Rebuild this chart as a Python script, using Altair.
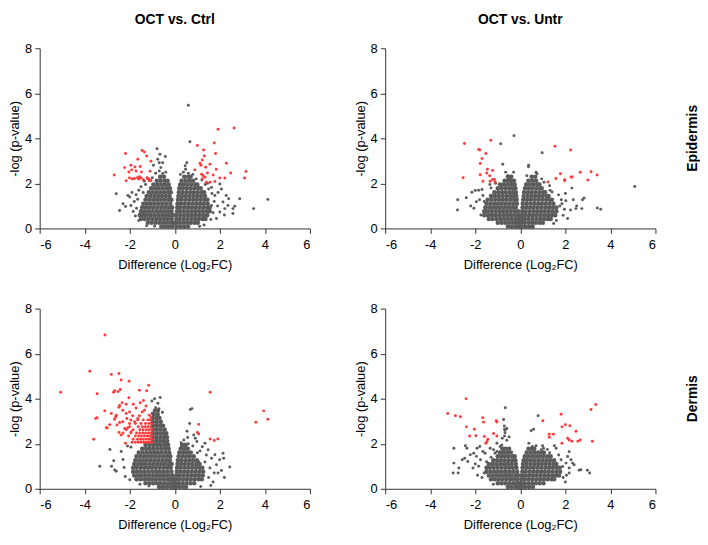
import altair as alt
import pandas as pd

FONT = "Liberation Sans"
GRAY = "#5b5b5b"
RED = "#ff3b3b"

COMPARISONS = ["OCT vs. Ctrl", "OCT vs. Untr"]
TISSUES = ["Epidermis", "Dermis"]
X_TICKS = [-6, -4, -2, 0, 2, 4, 6]
Y_TICKS = [0, 2, 4, 6, 8]

# ---------------- Epidermis / OCT vs. Ctrl ----------------
EPI_CTRL_CORE = {
    0.08: [-0.6, -0.43, -0.26, -0.1, 0.08, 0.25, 0.42, 0.59],
    0.25: [-1.2, -1.03, -0.86, -0.69, -0.52, -0.35, -0.18, -0.05, 0.05, 0.2, 0.37, 0.54, 0.71, 0.88, 1.02],
    0.42: [-1.5, -1.33, -1.16, -0.99, -0.82, -0.65, -0.48, -0.31, -0.14, 0.07, 0.22, 0.39, 0.56, 0.73, 0.9, 1.07, 1.24, 1.36],
    0.59: [-1.55, -1.4, -1.24, -1.07, -0.9, -0.73, -0.56, -0.39, -0.22, -0.08, 0.08, 0.25, 0.42, 0.59, 0.76, 0.93, 1.1, 1.27, 1.44],
    0.76: [-1.5, -1.33, -1.16, -0.99, -0.82, -0.65, -0.48, -0.31, -0.15, 0.1, 0.22, 0.39, 0.56, 0.73, 0.9, 1.07, 1.24, 1.41, 1.55],
    0.93: [-1.45, -1.28, -1.11, -0.94, -0.77, -0.6, -0.43, -0.26, -0.12, 0.11, 0.25, 0.42, 0.59, 0.76, 0.93, 1.1, 1.27, 1.44, 1.55],
    1.10: [-1.4, -1.23, -1.06, -0.89, -0.72, -0.55, -0.38, -0.2, 0.12, 0.27, 0.44, 0.61, 0.78, 0.95, 1.12, 1.29, 1.46],
    1.27: [-1.3, -1.13, -0.96, -0.79, -0.62, -0.45, -0.28, -0.15, 0.14, 0.3, 0.47, 0.64, 0.81, 0.98, 1.15, 1.32, 1.45],
    1.44: [-1.25, -1.08, -0.91, -0.74, -0.57, -0.4, -0.23, 0.16, 0.32, 0.49, 0.66, 0.83, 1.0, 1.17, 1.34],
    1.61: [-1.15, -0.98, -0.81, -0.64, -0.47, -0.3, -0.18, 0.18, 0.34, 0.51, 0.68, 0.85, 1.02, 1.19, 1.3],
    1.78: [-1.05, -0.88, -0.71, -0.54, -0.37, -0.22, 0.2, 0.36, 0.53, 0.7, 0.87, 1.04, 1.15],
    1.95: [-0.95, -0.78, -0.61, -0.44, -0.27, 0.24, 0.4, 0.57, 0.74, 0.91, 1.0],
    2.12: [-0.8, -0.63, -0.46, -0.32, 0.3, 0.47, 0.64, 0.81],
    2.29: [-0.65, -0.48, 0.42, 0.59, 0.7],
}
EPI_CTRL_GRAY = [
    (-0.79, 3.54), (-0.66, 3.29), (-0.42, 3.19), (-0.76, 3.07), (-0.69, 2.92), (-0.54, 2.92),
    (-0.95, 2.81), (-0.62, 2.7), (-0.69, 2.55), (-0.54, 2.44), (-0.4, 2.5), (-0.85, 2.45),
    (-2.6, 1.54), (-2.08, 1.46), (-2.0, 1.4), (-2.19, 0.97), (-1.95, 1.02), (-2.45, 0.8),
    (-1.8, 1.2), (-1.72, 1.5), (-1.6, 1.7), (-1.85, 0.75), (-1.7, 0.9), (-1.65, 1.3),
    (-1.5, 1.85), (-1.3, 1.95), (-1.35, 2.1), (-1.15, 2.2), (-1.0, 2.25), (-2.3, 1.1),
    (-1.9, 1.6), (-1.75, 0.55), (-1.6, 0.35), (-1.25, 0.12), (-0.9, 0.1), (-1.4, 1.6),
    (0.6, 5.47), (0.67, 3.85), (0.53, 2.92), (0.46, 2.78), (0.48, 2.63), (0.38, 2.5),
    (0.6, 2.45), (0.25, 2.4), (2.88, 1.32), (4.13, 1.29), (3.5, 0.88), (2.58, 0.66),
    (2.66, 0.98), (2.28, 1.46), (2.39, 1.32), (2.22, 0.88), (2.07, 1.75), (1.92, 1.6),
    (2.0, 1.97), (1.63, 1.82), (1.78, 1.46), (2.14, 1.17), (1.63, 1.02), (2.0, 0.73),
    (1.85, 0.44), (2.36, 1.02), (2.58, 0.88), (1.7, 0.7), (1.75, 1.2), (1.5, 1.75),
    (1.45, 2.0), (1.2, 2.15), (1.35, 1.95), (1.9, 1.0), (1.6, 0.4), (1.3, 0.15),
    (1.1, 0.1), (2.2, 0.6), (1.65, 1.55), (0.95, 2.2), (0.8, 2.4),
]
EPI_CTRL_RED = [
    (-2.19, 3.33), (-1.45, 3.46), (-1.35, 3.39), (-1.64, 3.07), (-1.25, 3.22), (-1.06, 2.98),
    (-1.95, 2.81), (-2.23, 2.7), (-1.77, 2.73), (-1.54, 2.75), (-1.92, 2.6), (-2.04, 2.51),
    (-1.72, 2.55), (-1.48, 2.51), (-1.1, 2.54), (-2.69, 2.37), (-2.01, 2.24), (-1.89, 2.19),
    (-1.79, 2.22), (-1.66, 2.25), (-1.57, 2.29), (-1.5, 2.24), (-1.6, 2.19), (-1.4, 2.16),
    (-1.19, 2.19), (-1.13, 2.12), (-2.16, 2.12), (-1.23, 2.25), (-1.06, 2.13),
    (1.92, 4.4), (2.63, 4.46), (1.0, 3.68), (1.75, 3.79), (1.28, 3.48), (1.81, 3.33),
    (1.31, 3.22), (1.22, 3.04), (1.12, 2.89), (1.16, 2.81), (1.56, 2.85), (2.29, 2.89),
    (0.89, 2.6), (1.37, 2.72), (1.84, 2.63), (1.19, 2.41), (1.26, 2.34), (1.45, 2.46),
    (1.7, 2.37), (2.0, 2.24), (2.22, 2.24), (2.48, 2.46), (3.16, 2.53), (3.1, 2.24),
    (1.4, 2.05), (1.56, 2.05), (1.78, 2.08), (1.22, 2.19), (1.34, 2.27),
]

# ---------------- Epidermis / OCT vs. Untr ----------------
EPI_UNTR_CORE = {
    0.08: [-0.55, -0.38, -0.21, -0.06, 0.06, 0.22, 0.39, 0.55],
    0.25: [-1.0, -0.83, -0.66, -0.49, -0.32, -0.16, -0.04, 0.04, 0.18, 0.35, 0.52, 0.69, 0.86, 1.0],
    0.42: [-1.4, -1.23, -1.06, -0.89, -0.72, -0.55, -0.38, -0.21, -0.07, 0.06, 0.2, 0.37, 0.54, 0.71, 0.88, 1.05, 1.22, 1.35],
    0.59: [-1.6, -1.43, -1.26, -1.09, -0.92, -0.75, -0.58, -0.41, -0.24, -0.08, 0.07, 0.22, 0.39, 0.56, 0.73, 0.9, 1.07, 1.24, 1.41, 1.55],
    0.76: [-1.6, -1.45, -1.28, -1.11, -0.94, -0.77, -0.6, -0.43, -0.26, -0.1, 0.08, 0.24, 0.41, 0.58, 0.75, 0.92, 1.09, 1.26, 1.43, 1.6],
    0.93: [-1.55, -1.38, -1.21, -1.04, -0.87, -0.7, -0.53, -0.36, -0.2, 0.1, 0.26, 0.43, 0.6, 0.77, 0.94, 1.11, 1.28, 1.45, 1.6],
    1.10: [-1.5, -1.33, -1.16, -0.99, -0.82, -0.65, -0.48, -0.31, -0.15, 0.11, 0.28, 0.45, 0.62, 0.79, 0.96, 1.13, 1.3, 1.47],
    1.27: [-1.45, -1.28, -1.11, -0.94, -0.77, -0.6, -0.43, -0.27, -0.16, 0.13, 0.3, 0.47, 0.64, 0.81, 0.98, 1.15, 1.32, 1.4],
    1.44: [-1.3, -1.13, -0.96, -0.79, -0.62, -0.45, -0.3, -0.18, 0.15, 0.32, 0.49, 0.66, 0.83, 1.0, 1.17, 1.25],
    1.61: [-1.15, -0.98, -0.81, -0.64, -0.47, -0.32, -0.2, 0.17, 0.34, 0.51, 0.68, 0.85, 1.02, 1.1],
    1.78: [-1.0, -0.83, -0.66, -0.49, -0.34, -0.22, 0.21, 0.38, 0.55, 0.72, 0.89, 0.95],
    1.95: [-0.9, -0.73, -0.56, -0.4, -0.25, 0.26, 0.43, 0.6, 0.77, 0.85],
    2.12: [-0.7, -0.55, -0.4, -0.28, 0.36, 0.53, 0.7],
    2.29: [-0.55, -0.4, 0.5, 0.66],
}
EPI_UNTR_GRAY = [
    (-0.28, 4.12), (-0.87, 3.76), (-0.78, 2.85), (-2.78, 1.27), (-2.79, 0.82), (-2.4, 1.36),
    (-2.15, 1.61), (-2.0, 1.68), (-1.85, 1.7), (-1.95, 1.18), (-1.81, 1.27), (-2.06, 0.9),
    (-1.66, 1.46), (-1.7, 1.73), (-0.55, 2.34), (-0.49, 2.19), (-0.42, 2.05), (-0.3, 2.5),
    (-0.65, 2.5), (-1.3, 1.8), (-1.6, 1.2), (-1.75, 0.6), (-2.2, 1.0), (-1.35, 1.95),
    (-1.1, 2.0), (0.97, 3.36), (5.08, 1.86), (0.37, 2.81), (0.36, 2.74), (0.29, 2.34),
    (0.7, 2.49), (0.74, 2.43), (2.29, 1.79), (2.02, 1.23), (2.35, 1.27), (2.76, 1.27),
    (2.83, 1.35), (2.47, 0.88), (2.73, 0.88), (3.42, 0.91), (3.57, 0.85), (1.96, 0.85),
    (2.23, 0.82), (1.82, 1.27), (1.7, 1.49), (1.41, 1.62), (1.48, 0.22), (1.9, 0.58),
    (2.1, 0.44), (1.32, 1.69), (1.75, 1.0), (1.3, 1.9), (1.05, 2.05), (0.95, 2.2),
    (1.6, 0.35), (1.85, 1.1), (2.0, 1.55), (2.5, 1.0),
]
EPI_UNTR_RED = [
    (-2.48, 3.77), (-1.31, 3.92), (-1.85, 3.51), (-1.8, 3.48), (-1.53, 3.33), (-1.7, 3.1),
    (-1.78, 2.88), (-2.54, 2.25), (-1.78, 2.38), (-1.46, 2.63), (-1.23, 2.57), (-1.49, 2.46),
    (-1.36, 2.34), (-1.66, 2.09), (-1.34, 2.09), (-1.23, 2.17), (-1.15, 2.17), (-1.12, 2.05),
    (1.54, 3.65), (2.23, 3.48), (1.78, 2.43), (2.66, 2.49), (3.14, 2.52), (3.41, 2.37),
    (1.58, 2.22), (1.97, 2.16), (1.97, 2.12), (2.25, 2.28), (2.3, 2.28), (3.0, 2.15),
    (1.23, 2.06),
]

# ---------------- Dermis / OCT vs. Ctrl ----------------
DER_CTRL_CORE = {
    0.08: [-0.7, -0.53, -0.36, -0.2, -0.06, 0.06, 0.22, 0.39, 0.5],
    0.25: [-1.3, -1.13, -0.96, -0.79, -0.62, -0.45, -0.28, -0.13, -0.03, 0.04, 0.18, 0.35, 0.52, 0.69, 0.86],
    0.42: [-1.7, -1.53, -1.36, -1.19, -1.02, -0.85, -0.68, -0.51, -0.34, -0.18, -0.06, 0.06, 0.2, 0.37, 0.54, 0.71, 0.88, 1.05, 1.2],
    0.59: [-1.8, -1.63, -1.46, -1.29, -1.12, -0.95, -0.78, -0.61, -0.44, -0.27, -0.1, 0.07, 0.22, 0.39, 0.56, 0.73, 0.9, 1.07, 1.24],
    0.76: [-1.85, -1.68, -1.51, -1.34, -1.17, -1.0, -0.83, -0.66, -0.49, -0.32, -0.15, 0.09, 0.24, 0.41, 0.58, 0.75, 0.92, 1.09, 1.26],
    0.93: [-1.85, -1.7, -1.53, -1.36, -1.19, -1.02, -0.85, -0.68, -0.51, -0.34, -0.18, 0.1, 0.26, 0.43, 0.6, 0.77, 0.94, 1.11, 1.22],
    1.10: [-1.8, -1.63, -1.46, -1.29, -1.12, -0.95, -0.78, -0.61, -0.44, -0.27, -0.14, 0.12, 0.28, 0.45, 0.62, 0.79, 0.96, 1.1],
    1.27: [-1.75, -1.58, -1.41, -1.24, -1.07, -0.9, -0.73, -0.56, -0.39, -0.22, 0.14, 0.3, 0.47, 0.64, 0.81, 0.98],
    1.44: [-1.7, -1.53, -1.36, -1.19, -1.02, -0.85, -0.68, -0.51, -0.34, -0.2, 0.17, 0.33, 0.5, 0.67, 0.84],
    1.61: [-1.6, -1.43, -1.26, -1.09, -0.92, -0.75, -0.58, -0.41, -0.25, 0.2, 0.37, 0.54, 0.71],
    1.78: [-1.45, -1.28, -1.11, -0.94, -0.77, -0.6, -0.43, -0.27, 0.26, 0.42, 0.58],
    1.95: [-1.3, -1.13, -0.96, -0.79, -0.62, -0.45, -0.3, 0.32, 0.48],
    2.12: [-0.98, -0.82, -0.66, -0.5, -0.34],
    2.29: [-0.97, -0.8, -0.63, -0.47, -0.35],
    2.46: [-0.98, -0.82, -0.66, -0.5, -0.38],
    2.63: [-0.97, -0.8, -0.63, -0.45],
    2.80: [-0.98, -0.82, -0.66, -0.52],
    2.97: [-0.97, -0.8, -0.63],
    3.14: [-0.98, -0.82, -0.68],
    3.31: [-0.93, -0.76],
    3.48: [-0.88, -0.75],
}
DER_CTRL_GRAY = [
    (-3.33, 1.0), (-2.88, 1.74), (-2.71, 1.25), (-2.67, 0.84), (-2.81, 1.0), (-2.6, 0.78),
    (-2.38, 1.66), (-2.3, 1.3), (-2.2, 0.55), (-2.1, 1.9), (-2.25, 0.95), (-1.95, 1.85),
    (-2.0, 0.4), (-1.55, 0.2), (-1.15, 0.12), (-0.5, 2.6), (-0.45, 2.3), (-0.6, 3.0),
    (-0.4, 2.05), (-0.55, 3.4), (-0.75, 3.8), (-0.9, 4.0), (-0.65, 4.05), (-0.85, 3.6),
    (-1.0, 3.35), (-1.02, 3.9), (-0.7, 3.55),
    (0.69, 3.52), (0.76, 3.56), (0.66, 2.9), (0.54, 2.56), (0.4, 2.17), (0.28, 2.05),
    (0.32, 1.87), (0.57, 2.28), (0.84, 2.39), (0.98, 2.1), (0.91, 2.24), (1.22, 1.87),
    (1.34, 2.02), (1.12, 1.68), (1.48, 1.73), (1.78, 1.51), (2.14, 1.58), (2.17, 1.36),
    (1.99, 1.29), (1.63, 1.36), (2.44, 0.97), (2.07, 0.81), (1.92, 0.7), (1.75, 0.7),
    (1.34, 1.19), (1.04, 1.22), (1.56, 0.92), (1.85, 1.07), (1.5, 0.5), (1.7, 0.3),
    (1.4, 1.5), (1.0, 1.6), (0.8, 1.9), (0.6, 2.0), (2.2, 0.5), (1.6, 0.15), (1.15, 0.1),
]
DER_CTRL_RED = [
    (-3.1, 6.83), (-5.07, 4.29), (-3.77, 5.22), (-2.82, 5.08), (-2.48, 5.12), (-2.38, 4.83),
    (-2.03, 4.78), (-1.16, 4.6), (-3.45, 4.22), (-2.72, 4.29), (-2.67, 4.35), (-2.52, 4.32),
    (-2.42, 4.41), (-1.57, 4.38), (-1.25, 4.35), (-2.04, 4.04), (-2.34, 3.82), (-2.45, 3.7),
    (-2.48, 3.62), (-2.16, 3.75), (-1.84, 3.75), (-1.72, 3.59), (-1.39, 3.92), (-1.54, 3.82),
    (-1.28, 3.68), (-3.11, 3.46), (-2.82, 3.34), (-2.63, 3.19), (-3.45, 3.15), (-3.51, 3.12),
    (-2.89, 2.84), (-3.04, 2.71), (-3.0, 2.7), (-3.6, 2.2),
    (-2.31, 3.49), (-2.16, 3.34), (-2.01, 3.41), (-1.87, 3.24), (-2.13, 3.12), (-2.31, 2.98),
    (-2.01, 2.9), (-1.79, 2.98), (-1.64, 3.12), (-1.57, 3.24), (-1.45, 3.41), (-1.35, 3.49),
    (-2.23, 2.68), (-2.09, 2.71), (-1.94, 2.53), (-2.48, 2.5), (-2.38, 2.39), (-2.19, 2.02),
    (-2.45, 2.94), (-2.57, 2.83), (-2.6, 3.27), (-2.67, 3.09), (-1.13, 3.27), (-1.06, 3.15),
    (-1.2, 3.05),
    (-1.03, 2.07), (-1.12, 2.07), (-1.2, 2.07), (-1.3, 2.07), (-1.38, 2.07), (-1.5, 2.07), (-1.62, 2.07), (-1.75, 2.07), (-1.9, 2.07),
    (-1.04, 2.2), (-1.15, 2.2), (-1.27, 2.2), (-1.4, 2.2), (-1.52, 2.2), (-1.66, 2.2), (-1.85, 2.2),
    (-1.03, 2.34), (-1.12, 2.34), (-1.22, 2.34), (-1.35, 2.34), (-1.48, 2.34), (-1.6, 2.34), (-1.75, 2.34), (-2.05, 2.34),
    (-1.05, 2.48), (-1.17, 2.48), (-1.3, 2.48), (-1.42, 2.48), (-1.56, 2.48), (-1.7, 2.48), (-1.95, 2.48), (-2.3, 2.48),
    (-1.03, 2.62), (-1.14, 2.62), (-1.26, 2.62), (-1.4, 2.62), (-1.55, 2.62), (-1.85, 2.62), (-2.15, 2.62),
    (-1.06, 2.76), (-1.2, 2.76), (-1.32, 2.76), (-1.45, 2.76), (-1.62, 2.76), (-2.0, 2.76),
    (-1.04, 2.9), (-1.15, 2.9), (-1.3, 2.9), (-1.5, 2.9), (-1.75, 2.9),
    (-1.08, 3.05), (-1.4, 3.05), (-1.65, 3.05), (-1.95, 3.05),
    (1.57, 4.29), (3.95, 3.46), (4.13, 3.09), (3.6, 2.95), (1.06, 2.86), (1.0, 2.5),
    (1.06, 2.43), (1.57, 2.21), (1.75, 2.14), (1.91, 2.21),
]

# ---------------- Dermis / OCT vs. Untr ----------------
DER_UNTR_CORE = {
    0.08: [-0.55, -0.38, -0.21, -0.06, 0.06, 0.22, 0.39, 0.56],
    0.25: [-1.0, -0.83, -0.66, -0.49, -0.32, -0.16, -0.04, 0.04, 0.18, 0.35, 0.52, 0.69, 0.86, 1.03],
    0.42: [-1.3, -1.13, -0.96, -0.79, -0.62, -0.45, -0.28, -0.12, 0.06, 0.2, 0.37, 0.54, 0.71, 0.88, 1.05, 1.22, 1.39, 1.5],
    0.59: [-1.4, -1.23, -1.06, -0.89, -0.72, -0.55, -0.38, -0.21, -0.08, 0.07, 0.22, 0.39, 0.56, 0.73, 0.9, 1.07, 1.24, 1.41, 1.58, 1.72],
    0.76: [-1.5, -1.33, -1.16, -0.99, -0.82, -0.65, -0.48, -0.31, -0.14, 0.09, 0.24, 0.41, 0.58, 0.75, 0.92, 1.09, 1.26, 1.43, 1.6, 1.77],
    0.93: [-1.5, -1.35, -1.18, -1.01, -0.84, -0.67, -0.5, -0.33, -0.17, 0.1, 0.26, 0.43, 0.6, 0.77, 0.94, 1.11, 1.28, 1.45, 1.62, 1.75],
    1.10: [-1.4, -1.23, -1.06, -0.89, -0.72, -0.55, -0.38, -0.2, 0.12, 0.28, 0.45, 0.62, 0.79, 0.96, 1.13, 1.3, 1.47, 1.6],
    1.27: [-1.2, -1.03, -0.86, -0.69, -0.52, -0.35, -0.22, 0.15, 0.3, 0.47, 0.64, 0.81, 0.98, 1.15, 1.32, 1.5],
    1.44: [-1.0, -0.84, -0.68, -0.52, -0.36, -0.25, 0.2, 0.36, 0.53, 0.7, 0.87, 1.04, 1.21, 1.35],
    1.61: [-0.9, -0.74, -0.58, -0.42, 0.28, 0.45, 0.62, 0.79, 0.96, 1.05],
    1.78: [-0.8, -0.65, -0.5, 0.36, 0.52, 0.62],
}
DER_UNTR_GRAY = [
    (-0.67, 3.6), (-0.74, 3.08), (-0.71, 2.79), (-0.7, 2.65), (-0.68, 2.6), (-0.6, 2.68),
    (-0.68, 2.49), (-0.7, 2.34), (-0.8, 2.24), (-0.6, 2.16), (-0.5, 2.3), (-2.95, 1.8),
    (-2.95, 1.14), (-2.98, 0.7), (-2.73, 0.92), (-2.76, 0.7), (-2.58, 1.29), (-2.44, 1.91),
    (-2.37, 1.8), (-2.22, 1.51), (-2.07, 1.58), (-2.47, 1.36), (-2.33, 1.21), (-2.1, 0.92),
    (-1.85, 1.0), (-1.95, 1.44), (-1.77, 1.29), (-1.66, 1.66), (-1.56, 1.58), (-1.8, 1.88),
    (-1.92, 1.8), (-1.34, 1.8), (-1.19, 1.73), (-1.12, 1.58), (-1.04, 1.66), (-1.04, 2.02),
    (-0.9, 1.88), (-0.82, 1.95), (-0.75, 1.8), (-1.6, 0.7), (-1.7, 0.5), (-1.9, 0.6),
    (-2.0, 1.1), (-1.5, 1.2), (-1.3, 1.4), (-1.2, 0.2),
    (0.79, 3.24), (0.59, 2.64), (0.48, 2.58), (0.38, 2.02), (0.53, 1.88), (0.41, 1.77),
    (0.63, 1.8), (0.7, 1.91), (0.99, 1.91), (0.93, 1.73), (1.03, 1.8), (1.51, 1.91),
    (1.59, 1.8), (2.17, 1.65), (2.1, 1.43), (2.25, 1.29), (2.32, 1.14), (2.17, 0.92),
    (2.61, 0.82), (2.69, 0.85), (2.98, 0.82), (3.08, 0.7), (2.17, 0.7), (2.39, 1.07),
    (2.03, 1.14), (1.88, 0.99), (1.81, 1.29), (1.9, 0.5), (2.0, 0.3), (1.3, 1.6),
    (1.7, 1.5), (1.2, 1.75), (2.05, 0.6),
]
DER_UNTR_RED = [
    (-2.41, 4.0), (-3.22, 3.34), (-2.88, 3.24), (-2.66, 3.2), (-1.67, 3.16), (-1.63, 2.96),
    (-1.07, 3.02), (-1.04, 2.97), (-2.39, 2.75), (-2.04, 2.64), (-1.19, 2.46), (-1.04, 2.34),
    (-2.25, 2.34), (-1.97, 2.36), (-1.6, 2.32), (-1.44, 2.2), (-1.48, 2.1), (-1.53, 2.02),
    (3.35, 3.74), (3.14, 3.52), (1.81, 3.31), (1.0, 3.02), (2.0, 2.84), (1.85, 2.75),
    (2.2, 2.8), (2.47, 2.56), (1.28, 2.42), (1.47, 2.42), (1.29, 2.29), (2.1, 2.24),
    (2.17, 2.17), (2.29, 2.11), (2.56, 2.11), (2.66, 2.17), (3.2, 2.11), (1.85, 2.02),
]

PANELS = [
    ("Epidermis", "OCT vs. Ctrl", EPI_CTRL_CORE, EPI_CTRL_GRAY, EPI_CTRL_RED),
    ("Epidermis", "OCT vs. Untr", EPI_UNTR_CORE, EPI_UNTR_GRAY, EPI_UNTR_RED),
    ("Dermis", "OCT vs. Ctrl", DER_CTRL_CORE, DER_CTRL_GRAY, DER_CTRL_RED),
    ("Dermis", "OCT vs. Untr", DER_UNTR_CORE, DER_UNTR_GRAY, DER_UNTR_RED),
]

rows = []
for tissue, comp, core, gray, red in PANELS:
    for yv, xs in core.items():
        for xv in xs:
            rows.append({"tissue": tissue, "comp": comp, "x": xv, "y": yv, "sig": "ns", "kind": "core"})
    for xv, yv in gray:
        rows.append({"tissue": tissue, "comp": comp, "x": xv, "y": yv, "sig": "ns", "kind": "point"})
for tissue, comp, core, gray, red in PANELS:
    for xv, yv in red:
        rows.append({"tissue": tissue, "comp": comp, "x": xv, "y": yv, "sig": "sig", "kind": "point"})
df = pd.DataFrame(rows)

base = alt.Chart(df).mark_circle(opacity=1).encode(
    x=alt.X("x:Q", scale=alt.Scale(domain=[-6, 6], nice=False, zero=False),
            axis=alt.Axis(values=X_TICKS, title="Difference (Log\u2082FC)", titlePadding=7,
                          labelPadding=5, labelExpr="'' + datum.value")),
    y=alt.Y("y:Q", scale=alt.Scale(domain=[0, 8], nice=False),
            axis=alt.Axis(values=Y_TICKS, title="-log (p-value)", titlePadding=3, labelPadding=3)),
    color=alt.Color("sig:N", scale=alt.Scale(domain=["ns", "sig"], range=[GRAY, RED]), legend=None),
    size=alt.Size("kind:N", scale=alt.Scale(domain=["core", "point"], range=[21, 9]), legend=None),
).properties(width=273, height=182)

chart = base.facet(
    column=alt.Column("comp:N", sort=COMPARISONS,
                      header=alt.Header(title=None, labelFont=FONT, labelFontSize=14,
                                        labelFontWeight="bold", labelColor="#000", labelPadding=16)),
    row=alt.Row("tissue:N", sort=TISSUES,
                header=alt.Header(title=None, labelOrient="right", labelAngle=-90, labelFont=FONT,
                                  labelFontSize=14, labelFontWeight="bold", labelColor="#000",
                                  labelPadding=23)),
    spacing={"row": 32, "column": 43},
).resolve_axis(x="independent", y="independent").configure(
    padding={"top": 2, "left": 0, "right": 0, "bottom": 0}, font=FONT
).configure_axis(
    labelFont=FONT, labelFontSize=13, labelColor="#000", titleFont=FONT, titleFontSize=13,
    titleFontWeight="normal", titleColor="#000", domainColor="#333", tickColor="#333",
    tickSize=5, grid=False,
).configure_view(stroke=None)

chart.save("out.html", embed_options={"renderer": "svg", "actions": False})
